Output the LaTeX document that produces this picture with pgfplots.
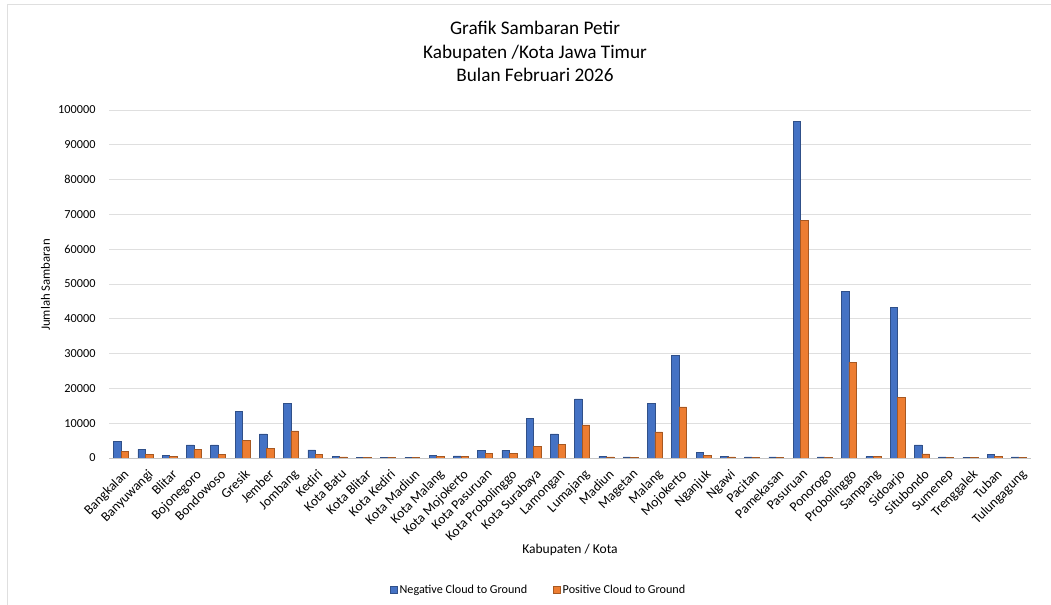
\documentclass[border=0pt]{standalone}
\usepackage{pgfplots}
\pgfplotsset{compat=1.18}
\usepackage{pgfplotstable}
\usepackage{fontspec}
\setmainfont{Carlito}

\definecolor{negblue}{HTML}{4472C4}
\definecolor{posorange}{HTML}{ED7D31}

\pgfplotstableread{
idx neg pos
0 4700 1900
1 2500 1000
2 700 400
3 3800 2400
4 3800 1100
5 13300 5000
6 6900 2800
7 15700 7800
8 2300 1100
9 400 300
10 200 150
11 250 200
12 150 100
13 800 500
14 600 400
15 2200 1400
16 2200 1300
17 11300 3400
18 6900 3900
19 17000 9500
20 500 300
21 300 200
22 15800 7500
23 29500 14700
24 1700 800
25 400 300
26 300 250
27 300 250
28 96800 68300
29 300 250
30 47800 27500
31 400 400
32 43300 17500
33 3800 1200
34 300 250
35 200 150
36 1100 500
37 300 250
}\lightning

\begin{document}
\begin{tikzpicture}[x=1bp,y=1bp]
\useasboundingbox (0,0) rectangle (1051,605);
\draw[gray!25,line width=1bp] (7,0) -- (7,600) -- (1051,600);

\node[font=\fontsize{19.3}{22}\selectfont, anchor=base] at (535,570) {Grafik Sambaran Petir};
\node[font=\fontsize{19.3}{22}\selectfont, anchor=base] at (535,546) {Kabupaten /Kota Jawa Timur};
\node[font=\fontsize{19.3}{22}\selectfont, anchor=base] at (535,523) {Bulan Februari 2026};

\begin{axis}[
  at={(109bp,147bp)}, anchor=south west,
  scale only axis,
  width=922bp, height=348bp,
  ybar, bar width=7.5bp,
  xmin=-0.5, xmax=37.5,
  ymin=0, ymax=100000,
  ytick={0,10000,...,100000},
  scaled y ticks=false,
  yticklabel style={/pgf/number format/fixed, /pgf/number format/use comma=false,
    /pgf/number format/1000 sep={}, font=\fontsize{12.3}{14}\selectfont, xshift=-10bp},
  /pgf/number format/assume math mode=true,
  xtick=data,
  xticklabels={Bangkalan,Banyuwangi,Blitar,Bojonegoro,Bondowoso,Gresik,Jember,Jombang,Kediri,Kota Batu,Kota Blitar,Kota Kediri,Kota Madiun,Kota Malang,Kota Mojokerto,Kota Pasuruan,Kota Probolinggo,Kota Surabaya,Lamongan,Lumajang,Madiun,Magetan,Malang,Mojokerto,Nganjuk,Ngawi,Pacitan,Pamekasan,Pasuruan,Ponorogo,Probolinggo,Sampang,Sidoarjo,Situbondo,Sumenep,Trenggalek,Tuban,Tulungagung},
  xticklabel style={xshift=1.5bp, yshift=-9bp, rotate=45, anchor=north east, font=\fontsize{13.6}{15}\selectfont, inner sep=1bp},
  major tick length=0pt,
  axis x line*=bottom, axis y line*=left,
  x axis line style={draw=gray!45, line width=0.8bp},
  y axis line style={draw=none},
  ymajorgrids, grid style={gray!25, line width=0.8bp},
  xlabel={Kabupaten / Kota},
  xlabel style={at={(axis description cs:0.5,-0.264)}, anchor=center, font=\fontsize{13.6}{15}\selectfont},
  ylabel={Jumlah Sambaran},
  ylabel style={at={(axis description cs:-0.069,0.497)}, anchor=center, rotate=0, font=\fontsize{12.8}{14}\selectfont},
  legend style={at={(axis description cs:0.466,-0.379)}, anchor=center, draw=none,
    legend columns=2, font=\fontsize{12.2}{14}\selectfont,
    /tikz/every even column/.append style={column sep=24bp}},
  legend image code/.code={\fill[#1] (0bp,-3.5bp) rectangle (7bp,3.5bp);},
]
\addplot[fill=negblue, draw=negblue!70!black, line width=0.5bp, bar shift=-3.7bp] table[x=idx,y=neg]{\lightning};
\addplot[fill=posorange, draw=posorange!70!black, line width=0.5bp, bar shift=3.7bp] table[x=idx,y=pos]{\lightning};
\legend{Negative Cloud to Ground, Positive Cloud to Ground}
\end{axis}
\end{tikzpicture}
\end{document}
